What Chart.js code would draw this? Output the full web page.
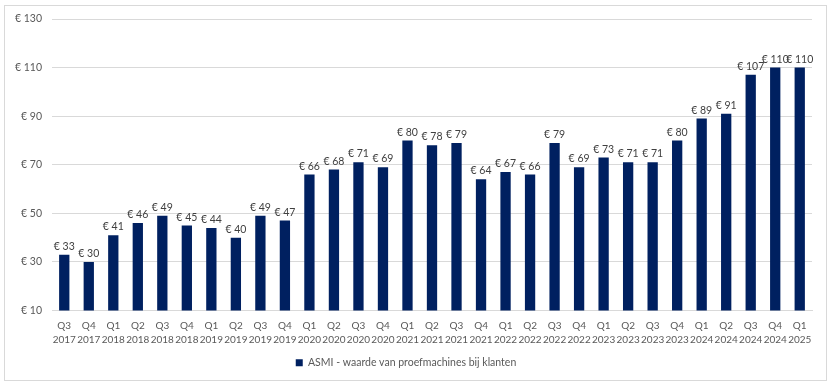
<!DOCTYPE html>
<html>
<head>
<meta charset="utf-8">
<script src="https://cdn.jsdelivr.net/npm/chart.js@4/dist/chart.umd.min.js"></script>
<style>
    body { margin: 0; background: #fff; }
    #wrap { position: relative; width: 831px; height: 384px; }
    #frame { position: absolute; left: 4px; top: 5px; width: 821px; height: 374px; border: 1px solid #d9d9d9; }
    canvas { position: absolute; left: 0; top: 0; }
</style>
</head>
<body>
<div id="wrap">
    <div id="frame"></div>
    <canvas id="chart" width="831" height="384"></canvas>
</div>
<script>
// Quarters shown on the x axis (two lines each)
const quarters = [
    'Q3', 'Q4',
    'Q1', 'Q2', 'Q3', 'Q4',
    'Q1', 'Q2', 'Q3', 'Q4',
    'Q1', 'Q2', 'Q3', 'Q4',
    'Q1', 'Q2', 'Q3', 'Q4',
    'Q1', 'Q2', 'Q3', 'Q4',
    'Q1', 'Q2', 'Q3', 'Q4',
    'Q1', 'Q2', 'Q3', 'Q4',
    'Q1'
];
const years = [
    '2017', '2017',
    '2018', '2018', '2018', '2018',
    '2019', '2019', '2019', '2019',
    '2020', '2020', '2020', '2020',
    '2021', '2021', '2021', '2021',
    '2022', '2022', '2022', '2022',
    '2023', '2023', '2023', '2023',
    '2024', '2024', '2024', '2024',
    '2025'
];

// Value of demo machines at customers (EUR million)
const values = [
    33, 30,
    41, 46, 49, 45,
    44, 40, 49, 47,
    66, 68, 71, 69,
    80, 78, 79, 64,
    67, 66, 79, 69,
    73, 71, 71, 80,
    89, 91, 107, 110,
    110
];

const seriesLabel = 'ASMI - waarde van proefmachines bij klanten';
const yTicks = [10, 30, 50, 70, 90, 110, 130];

const labels = quarters.map((q, i) => [q, years[i]]);
const FONT = 'Lato, "Open Sans", sans-serif';

// Draw "€ xx" above each bar
const valueLabels = {
    id: 'valueLabels',
    afterDatasetsDraw(chart) {
        const ctx = chart.ctx;
        const meta = chart.getDatasetMeta(0);
        ctx.save();
        ctx.font = '10.5px ' + FONT;
        ctx.fillStyle = '#404040';
        ctx.textAlign = 'center';
        ctx.textBaseline = 'bottom';
        meta.data.forEach((bar, i) => {
            ctx.fillText('€ ' + values[i], bar.x, bar.y - 3);
        });
        ctx.restore();
    }
};

new Chart(document.getElementById('chart'), {
    type: 'bar',
    data: {
        labels: labels,
        datasets: [{
            label: seriesLabel,
            data: values,
            backgroundColor: '#002060',
            borderWidth: 0,
            categoryPercentage: 1,
            barPercentage: 0.42
        }]
    },
    options: {
        responsive: false,
        animation: false,
        layout: {
            padding: { left: 0, right: 19, top: 19, bottom: 6 }
        },
        plugins: {
            legend: {
                position: 'bottom',
                labels: {
                    boxWidth: 7,
                    boxHeight: 7,
                    padding: 8,
                    color: '#595959',
                    font: { size: 10.5, family: FONT }
                }
            },
            tooltip: { enabled: false }
        },
        scales: {
            x: {
                grid: { display: false, drawTicks: false },
                border: { color: '#d9d9d9' },
                afterFit(scale) { scale.height = 39; },
                ticks: {
                    color: '#595959',
                    maxRotation: 0,
                    autoSkip: false,
                    padding: 8,
                    font: { size: 10, family: FONT, lineHeight: 1.4 }
                }
            },
            y: {
                min: 10,
                max: 130,
                afterFit(scale) { scale.width = 52; },
                afterBuildTicks(scale) {
                    scale.ticks = yTicks.map(v => ({ value: v }));
                },
                grid: { color: '#d9d9d9', drawTicks: false },
                border: { display: false },
                ticks: {
                    color: '#595959',
                    padding: 10,
                    font: { size: 10.5, family: FONT },
                    callback: v => '€ ' + v
                }
            }
        }
    },
    plugins: [valueLabels]
});
</script>
</body>
</html>
